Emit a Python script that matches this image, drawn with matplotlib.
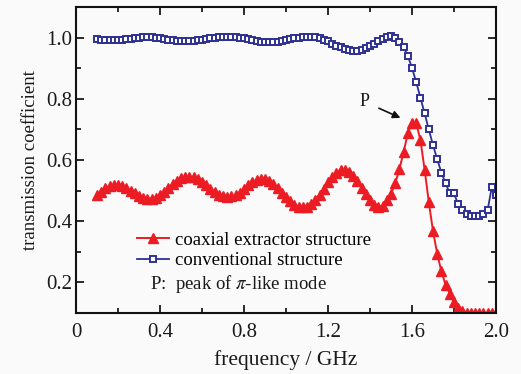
import numpy as np
import matplotlib
matplotlib.use('Agg')
import matplotlib.pyplot as plt
from matplotlib.ticker import MultipleLocator
from matplotlib.lines import Line2D

plt.rcParams['font.family'] = ['Liberation Serif', 'DejaVu Serif']
plt.rcParams['mathtext.fontset'] = 'stix'

# frequency grid (GHz), 0.10 ... 2.00 step 0.02
freq = np.round(np.arange(0.10, 2.001, 0.02), 2)

# coaxial extractor structure (red triangles)
coaxial = [0.485, 0.497, 0.508, 0.516, 0.520, 0.520, 0.516, 0.509, 0.500, 0.491,
           0.483, 0.477, 0.474, 0.474, 0.477, 0.485, 0.496, 0.509, 0.522, 0.533,
           0.541, 0.545, 0.546, 0.544, 0.538, 0.529, 0.518, 0.506, 0.495, 0.487,
           0.482, 0.480, 0.481, 0.485, 0.494, 0.506, 0.518, 0.528, 0.535, 0.538,
           0.537, 0.532, 0.522, 0.509, 0.494, 0.479, 0.465, 0.454, 0.447, 0.445,
           0.447, 0.455, 0.469, 0.487, 0.507, 0.527, 0.545, 0.559, 0.567, 0.568,
           0.562, 0.549, 0.531, 0.510, 0.488, 0.468, 0.453, 0.445, 0.450, 0.469,
           0.489, 0.524, 0.570, 0.627, 0.687, 0.720, 0.720, 0.666, 0.569, 0.463,
           0.368, 0.294, 0.236, 0.192, 0.163, 0.135, 0.118, 0.106, 0.100, 0.100,
           0.100, 0.100, 0.100, 0.100, 0.100, 0.100]

# conventional structure (blue open squares)
conventional = [0.995, 0.994, 0.993, 0.992, 0.992, 0.992, 0.993, 0.995, 0.997, 0.999,
                1.000, 1.001, 1.001, 1.001, 1.000, 0.998, 0.996, 0.994, 0.992, 0.990,
                0.989, 0.989, 0.989, 0.990, 0.992, 0.994, 0.996, 0.998, 1.000, 1.001,
                1.002, 1.002, 1.002, 1.001, 1.000, 0.998, 0.995, 0.992, 0.989, 0.987,
                0.986, 0.986, 0.986, 0.987, 0.989, 0.992, 0.995, 0.998, 1.000, 1.002,
                1.003, 1.003, 1.002, 0.999, 0.994, 0.988, 0.981, 0.974, 0.968, 0.963,
                0.960, 0.958, 0.958, 0.960, 0.965, 0.972, 0.981, 0.989, 0.995, 1.001,
                1.004, 0.999, 0.986, 0.969, 0.941, 0.901, 0.855, 0.804, 0.753, 0.700,
                0.649, 0.603, 0.559, 0.524, 0.491, 0.491, 0.455, 0.438, 0.425, 0.417,
                0.416, 0.417, 0.425, 0.436, 0.512, 0.485]

red = '#ec1c24'
blue = '#2e3192'
ink = '#1a1a1a'

fig = plt.figure(figsize=(5.21, 3.74), dpi=100, facecolor='#fafafa')
ax = fig.add_axes([0.146, 0.163, 0.806, 0.818])
ax.set_facecolor('#fafafa')

ax.plot(freq, conventional, color=blue, lw=1.3, marker='s', ms=5,
        mfc='white', mec=blue, mew=1.4)
ax.plot(freq, coaxial, color=red, lw=1.4, marker='^', ms=7.5,
        mfc=red, mec=red)

ax.set_xlim(0, 2.0)
ax.set_ylim(0.1, 1.1)
ax.xaxis.set_minor_locator(MultipleLocator(0.2))
ax.yaxis.set_minor_locator(MultipleLocator(0.1))
ax.set_xticks([0, 0.4, 0.8, 1.2, 1.6, 2.0])
ax.set_xticklabels(['0', '0.4', '0.8', '1.2', '1.6', '2.0'])
ax.set_yticks([0.2, 0.4, 0.6, 0.8, 1.0])
ax.set_yticklabels(['0.2', '0.4', '0.6', '0.8', '1.0'])
ax.tick_params(which='both', direction='in', top=True, right=True,
               labelsize=15, colors=ink, width=1.3)
ax.tick_params(which='major', length=6)
ax.tick_params(axis='x', which='major', pad=7)
ax.tick_params(axis='y', which='major', pad=3)
ax.tick_params(which='minor', length=3.5)
for s in ax.spines.values():
    s.set_linewidth(1.5)
    s.set_color('#111111')

ax.set_xlabel('frequency / GHz', fontsize=15.5, color=ink, labelpad=6)
ax.set_ylabel('transmission coefficient', fontsize=13.5, color=ink, labelpad=5)

h_red = Line2D([], [], color=red, lw=1.4, marker='^', ms=7.5, mfc=red, mec=red)
h_blue = Line2D([], [], color=blue, lw=1.3, marker='s', ms=5, mfc='white', mec=blue, mew=1.4)
ax.legend([h_red, h_blue], ['coaxial extractor structure', 'conventional structure'],
          loc='upper left', bbox_to_anchor=(0.146, 0.266), frameon=False,
          fontsize=13.5, handlelength=1.7, handletextpad=0.3, labelspacing=0.17,
          borderaxespad=0, borderpad=0)
ax.text(0.176, 0.095, 'P:  peak of $\\pi$-like mode', transform=ax.transAxes,
        fontsize=13.5, va='center', ha='left', color=ink)

ax.annotate('P', xy=(1.545, 0.738), xytext=(1.375, 0.79), fontsize=13,
            ha='center', va='center', color=ink,
            arrowprops=dict(arrowstyle='-|>', color='#111111', lw=1.2,
                            shrinkA=5, shrinkB=0, mutation_scale=11))

fig.savefig('out.png', dpi=100, facecolor=fig.get_facecolor())
